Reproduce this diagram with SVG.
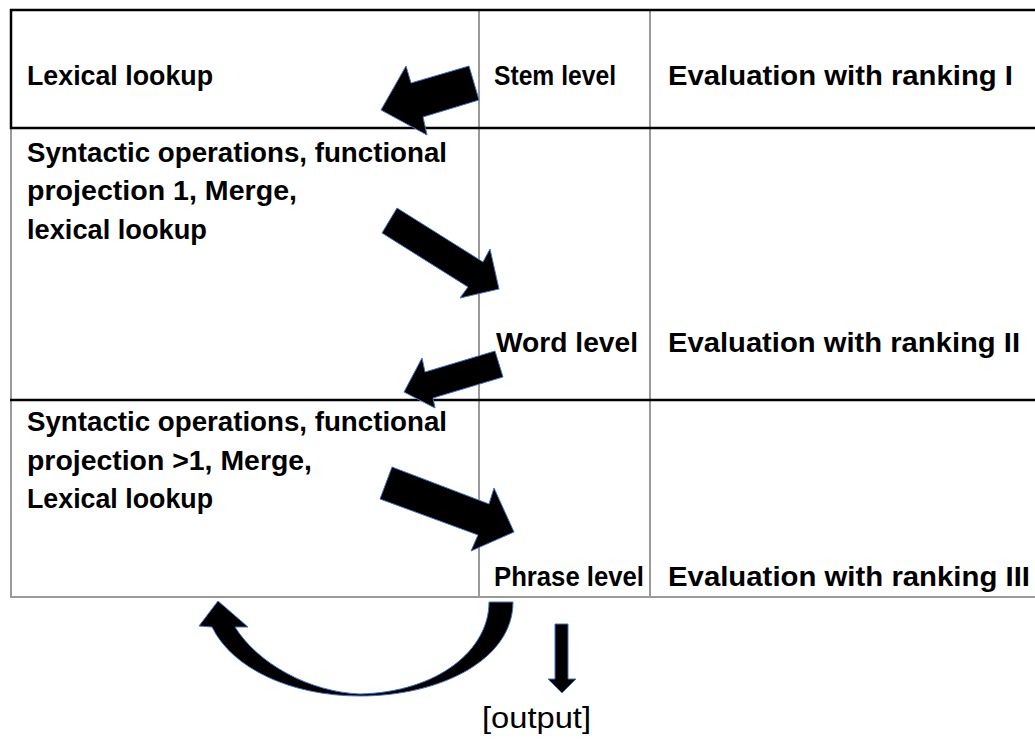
<svg xmlns="http://www.w3.org/2000/svg" width="1035" height="753" viewBox="0 0 1035 753">
<style>
.t{font-family:"Liberation Sans",Arial,sans-serif;font-weight:bold;font-size:28px;fill:#000}
.o{font-family:"Liberation Sans",Arial,sans-serif;font-size:29px;fill:#000}
.blk{stroke:#000;stroke-width:2.5;fill:none}
.gry{stroke:#9a9a9a;stroke-width:2;fill:none}
.arr{fill:#000;stroke:#4472C4;stroke-width:1;stroke-linejoin:miter}
</style>
<rect x="0" y="0" width="1035" height="753" fill="#fff"/>
<g id="table">
<line class="gry" x1="479" y1="10" x2="479" y2="598"/>
<line class="gry" x1="650" y1="10" x2="650" y2="598"/>
<line class="gry" x1="11" y1="128" x2="11" y2="598"/>
<line class="gry" x1="10" y1="597" x2="1035" y2="597"/>
<line class="blk" x1="10" y1="10" x2="1035" y2="10"/>
<line class="blk" x1="11" y1="9" x2="11" y2="129"/>
<line class="blk" x1="10" y1="128" x2="1035" y2="128"/>
<line class="blk" x1="10" y1="400" x2="1035" y2="400"/>
</g>
<g id="row1">
<text class="t" x="27" y="85" textLength="186" lengthAdjust="spacingAndGlyphs">Lexical lookup</text>
<text class="t" x="494" y="85" textLength="122" lengthAdjust="spacingAndGlyphs">Stem level</text>
<text class="t" x="668" y="85" textLength="345" lengthAdjust="spacingAndGlyphs">Evaluation with ranking I</text>
</g>
<g id="row2">
<text class="t" x="27" y="162" textLength="420" lengthAdjust="spacingAndGlyphs">Syntactic operations, functional</text>
<text class="t" x="27" y="200" textLength="270" lengthAdjust="spacingAndGlyphs">projection 1, Merge,</text>
<text class="t" x="27" y="239" textLength="180" lengthAdjust="spacingAndGlyphs">lexical lookup</text>
<text class="t" x="496" y="352" textLength="142" lengthAdjust="spacingAndGlyphs">Word level</text>
<text class="t" x="668" y="352" textLength="352" lengthAdjust="spacingAndGlyphs">Evaluation with ranking II</text>
</g>
<g id="row3">
<text class="t" x="27" y="431" textLength="420" lengthAdjust="spacingAndGlyphs">Syntactic operations, functional</text>
<text class="t" x="27" y="470" textLength="285" lengthAdjust="spacingAndGlyphs">projection &gt;1, Merge,</text>
<text class="t" x="27" y="508" textLength="186" lengthAdjust="spacingAndGlyphs">Lexical lookup</text>
<text class="t" x="494" y="586" textLength="150" lengthAdjust="spacingAndGlyphs">Phrase level</text>
<text class="t" x="668" y="586" textLength="362" lengthAdjust="spacingAndGlyphs">Evaluation with ranking III</text>
</g>
<g id="output">
<text class="o" x="482" y="728" textLength="109" lengthAdjust="spacingAndGlyphs">[output]</text>
</g>
<g id="connectors">
<polygon class="arr" points="469,66 479,100 423,117 427,135 381,110 406,66 411,83"/>
<polygon class="arr" points="397,208 382,233 468,287 460,298 499,289 490,249 483,262"/>
<polygon class="arr" points="495,351 503,377 433,398 435,408 404,392 422,358 425,372"/>
<polygon class="arr" points="392,467 380,499 478,535 471,551 514,532 494,488 489,504"/>
<path class="arr" d="M489,602 L513,602 C513,660 440,696 360,696 C290,696 232,668 212,627 L199,626 L218,601 L248,627 L235,627 C258,664 310,692 360,694 C438,692 489,650 489,602 Z"/>
<polygon class="arr" points="555,624 568,624 568,679 576,679 562,693 548,679 555,679"/>
</g>
</svg>
